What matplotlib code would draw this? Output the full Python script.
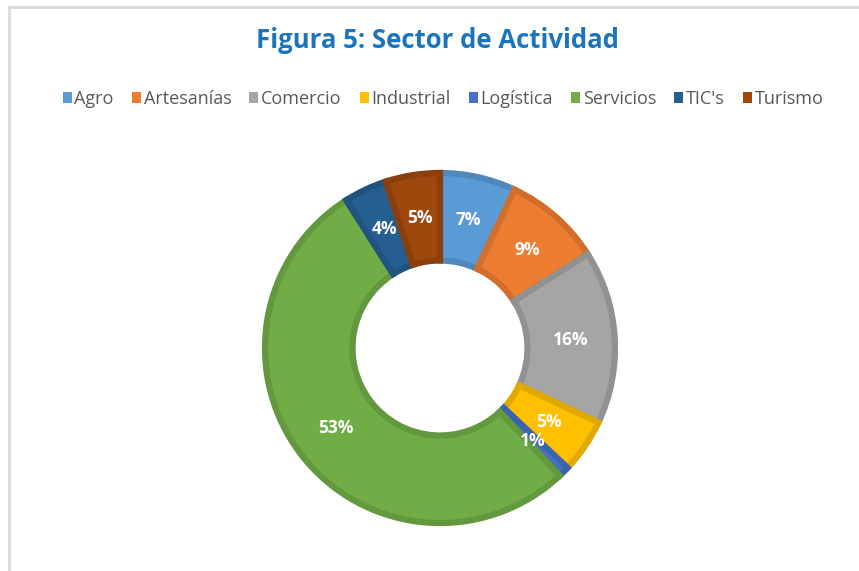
import matplotlib.pyplot as plt
from matplotlib.patches import Patch
from matplotlib.lines import Line2D
import matplotlib.colors as mcolors
import numpy as np

sectors = ['Agro', 'Artesanías', 'Comercio', 'Industrial', 'Logística', 'Servicios', "TIC's", 'Turismo']
shares = [7, 9, 16, 5, 1, 53, 4, 5]
colors = ['#5B9BD5', '#ED7D31', '#A5A5A5', '#FFC000', '#4472C4', '#70AD47', '#255E91', '#9E480E']


def darker(c, f=0.88):
    r, g, b = mcolors.to_rgb(c)
    return (r * f, g * f, b * f)


fig = plt.figure(figsize=(8.59, 5.71), dpi=100)
W, H = 859, 571

# light frame (top and left edge of the chart area)
fig.add_artist(Line2D([9 / W, 9 / W], [0, 1 - 7 / H], color='#D9D9D9', lw=2))
fig.add_artist(Line2D([9 / W, 1], [1 - 7 / H, 1 - 7 / H], color='#D9D9D9', lw=2))

# donut: center (440, 348) px, outer radius 175 px
cx, cy, R = 440, 348, 175
box = 180
ax = fig.add_axes([(cx - box) / W, (H - cy - box) / H, 2 * box / W, 2 * box / H])

wedges, texts = ax.pie(shares, colors=colors, startangle=90, counterclock=False,
                       radius=1, wedgeprops=dict(width=0.5, linewidth=4.5))
for w, c in zip(wedges, colors):
    w.set_edgecolor(darker(c))

ax.set_xlim(-box / R, box / R)
ax.set_ylim(-box / R, box / R)
ax.set_aspect('equal')
ax.axis('off')

total = sum(shares)
start = 90
for v in shares:
    mid = start - v / total * 360 / 2
    start -= v / total * 360
    r = 0.75
    ax.text(r * np.cos(np.radians(mid)), r * np.sin(np.radians(mid)), f'{v}%',
            ha='center', va='center', color='white', fontsize=12.5,
            fontweight='bold', family='Open Sans')

fig.text(437 / W, 1 - 41 / H, 'Figura 5: Sector de Actividad', ha='center', va='center',
         fontsize=18.5, fontweight='bold', color='#1B75BC', family='Open Sans')

handles = [Patch(facecolor=c, edgecolor='none') for c in colors]
fig.legend(handles, sectors, loc='center', bbox_to_anchor=(443 / W, 1 - 99 / H), ncol=8,
           frameon=False, handlelength=0.5, handleheight=0.5, handletextpad=0.15,
           columnspacing=1.0, prop={'family': 'Open Sans', 'size': 13},
           labelcolor='#595959')

fig.savefig('out.png', dpi=100)
